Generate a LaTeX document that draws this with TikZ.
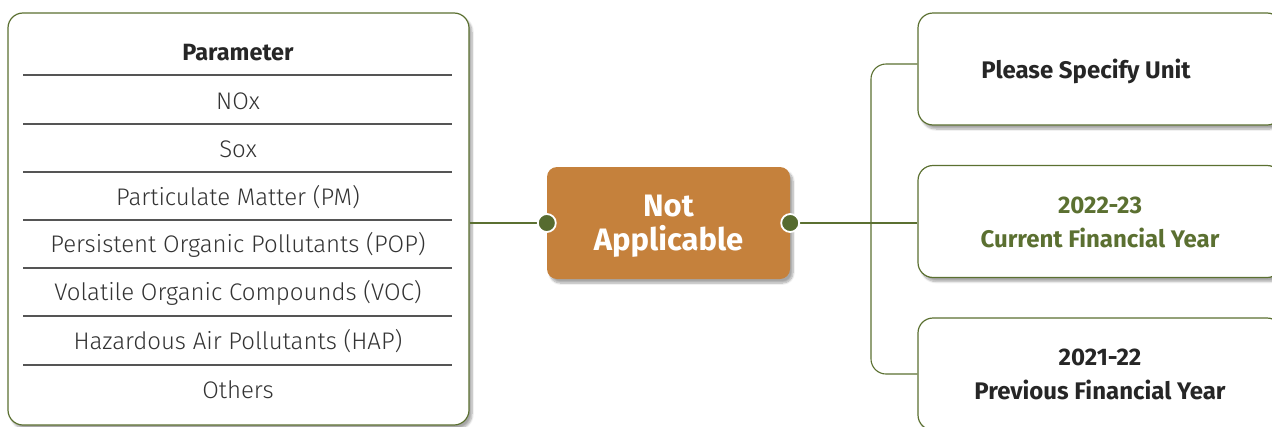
\documentclass[tikz,border=0pt]{standalone}
\usepackage{fontspec}
\setmainfont{Fira Sans}
\newfontfamily\lightfont{Fira Sans Light}
\usetikzlibrary{shadows.blur}
\definecolor{olive}{HTML}{5B7031}
\definecolor{dotc}{HTML}{566B2F}
\definecolor{orangebox}{HTML}{C5813C}
\definecolor{rowline}{HTML}{555555}
\definecolor{txt}{HTML}{333333}
\tikzset{
  panel/.style={draw=olive, line width=1.2pt, fill=white, rounded corners=15pt,
    blur shadow={shadow xshift=3pt, shadow yshift=-4pt, shadow blur steps=8, shadow opacity=35}},
  centerbox/.style={fill=orangebox, rounded corners=10pt, minimum width=243pt, minimum height=112pt,
    blur shadow={shadow xshift=3pt, shadow yshift=-4pt, shadow blur steps=8, shadow opacity=35},
    inner sep=0pt},
  centertext/.style={text=white, font=\bfseries\fontsize{31}{34}\selectfont, align=center, inner sep=0pt},
  rbox/.style={panel, minimum width=364pt, minimum height=112pt, inner sep=0pt},
  rowtext/.style={font=\lightfont\fontsize{24}{28}\selectfont, text=txt, inner sep=0pt},
  headtext/.style={font=\bfseries\fontsize{23.5}{27}\selectfont, text=black!85, inner sep=0pt},
  rtext/.style={font=\bfseries\fontsize{24}{34}\selectfont, align=center, inner sep=0pt},
  sep/.style={draw=rowline, line width=1.3pt},
  conn/.style={draw=olive, line width=1.1pt},
  dotn/.style={circle, fill=dotc, draw=white, line width=1.8pt, minimum size=18pt, inner sep=0pt}
}
\begin{document}
\begin{tikzpicture}[x=1pt, y=-1pt]
\useasboundingbox (0,0) rectangle (1272,426);
% left panel
\node[panel, minimum width=461pt, minimum height=412pt] (left) at (238.5,219) {};
\node[headtext] (h) at (238,53) {Parameter};
\node[rowtext] (r1) at (238,101) {NOx};
\node[rowtext] (r2) at (238,149) {Sox};
\node[rowtext] (r3) at (238,197) {Particulate Matter (PM)};
\node[rowtext] (r4) at (238,245) {Persistent Organic Pollutants (POP)};
\node[rowtext] (r5) at (238,293) {Volatile Organic Compounds (VOC)};
\node[rowtext] (r6) at (238,341) {Hazardous Air Pollutants (HAP)};
\node[rowtext] (r7) at (238,390) {Others};
\foreach \yy in {75,124,172,220,268,316,365}{
  \draw[sep] (23,\yy) -- (452,\yy);
}
% right boxes
\node[rbox] (b1) at (1100,69) {};
\node[rbox] (b2) at (1100,221.5) {};
\node[rbox] (b3) at (1100,374) {};
\node[rtext, text=black!85] (t1) at (1086,71) {Please Specify Unit};
\node[rtext, text=olive] (t2) at (1100,222) {2022-23\\Current Financial Year};
\node[rtext, text=black!85] (t3) at (1100,374) {2021-22\\Previous Financial Year};
% center
\node[centerbox] (c) at (668.5,223) {};
\node[centertext] (ct) at (668.5,226) {Not\\Applicable};
% connectors
\coordinate (j) at (871,222);
\draw[conn] (left.east |- c.west) -- (c.west);
\draw[conn] (c.east) -- (b2.west |- c.east);
\draw[conn, rounded corners=15pt] (b1.west |- 0,64) -- (871,64) -- (871,374) -- (b3.west);
\node[dotn] (d1) at (c.west) {};
\node[dotn] (d2) at (c.east) {};
\end{tikzpicture}
\end{document}
